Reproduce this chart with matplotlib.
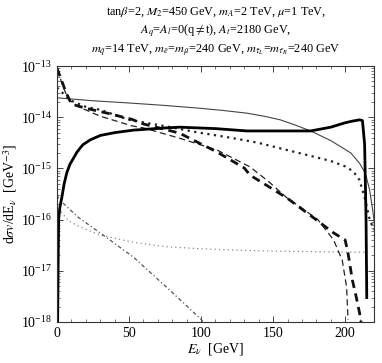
import numpy as np
import matplotlib
matplotlib.use("Agg")
import matplotlib.pyplot as plt
from matplotlib.ticker import FixedLocator, MultipleLocator, NullFormatter

plt.rcParams['font.family'] = ['Liberation Serif', 'DejaVu Serif']
plt.rcParams['mathtext.fontset'] = 'stix'

# thick solid
E_thick = [0.5, 0.8, 1.2, 2.0, 3.5, 5.0, 6.9, 9.0, 11, 14, 18, 23, 30, 40, 53, 76, 85, 110, 132, 155, 176, 190, 200, 205, 210, 212, 213.5, 214.5, 215]
y_thick = [1e-18, 1e-17, 1e-16, 1.7e-16, 2.8e-16, 5.0e-16, 8.3e-16, 1.2e-15, 1.5e-15, 2.1e-15, 2.9e-15, 3.6e-15, 4.4e-15, 5.0e-15, 5.6e-15, 6.2e-15, 6.4e-15, 6.0e-15, 5.4e-15, 5.4e-15, 5.4e-15, 6.4e-15, 7.8e-15, 8.4e-15, 8.9e-15, 8.6e-15, 3e-15, 1e-16, 3e-18]

# thin solid
E_thin = [0, 25, 50, 75, 99, 115, 132, 145, 155, 165, 176, 190, 204, 210, 214, 217, 219, 220, 221]
y_thin = [2.4e-14, 2.1e-14, 1.9e-14, 1.7e-14, 1.5e-14, 1.36e-14, 1.2e-14, 1.03e-14, 8.9e-15, 7.1e-15, 5.4e-15, 3.5e-15, 2.0e-15, 1.26e-15, 8.1e-16, 3.8e-16, 1.6e-16, 1.0e-16, 4e-17]

# thick dashed
E_tdash = [0, 3, 6, 9, 10.4, 20, 35, 52, 60, 85, 111, 130, 134, 147, 160, 176, 192, 200, 202, 205, 208, 210, 211]
y_tdash = [9e-14, 5.5e-14, 3.2e-14, 2.1e-14, 1.8e-14, 1.5e-14, 1.2e-14, 9.1e-15, 7.4e-15, 4.9e-15, 2.1e-15, 1.02e-15, 7.4e-16, 4.4e-16, 2.6e-16, 1.2e-16, 5.5e-17, 4.0e-17, 2.2e-17, 6.6e-18, 2.8e-18, 1.5e-18, 1e-18]

# thin dashed
E_dash = [0.7, 3, 6, 9, 15, 30, 52, 60, 85, 111, 134, 147, 160, 171, 181, 192, 198, 201, 202]
y_dash = [8.7e-14, 5.0e-14, 3.0e-14, 2.1e-14, 1.6e-14, 1.05e-14, 6.8e-15, 6.2e-15, 3.9e-15, 2.3e-15, 1.07e-15, 5.5e-16, 2.6e-16, 1.6e-16, 1.0e-16, 4.0e-17, 1.6e-17, 4.8e-18, 1.1e-18]

# thick dotted
E_dot = [0, 5, 10, 20, 30, 50, 75, 97, 120, 139, 168, 190, 201, 206, 210, 214, 217, 220]
y_dot = [3.8e-14, 2.8e-14, 2.1e-14, 1.6e-14, 1.4e-14, 8.9e-15, 6.7e-15, 5.1e-15, 4.0e-15, 3.2e-15, 2.0e-15, 1.4e-15, 1.07e-15, 8.5e-16, 5.9e-16, 2.4e-16, 1.0e-16, 6.3e-17]

# light dotted
E_ldot = [0, 2, 8, 16, 30, 53, 76, 99, 130, 160, 190, 214]
y_ldot = [2.0e-16, 1.55e-16, 9.5e-17, 7.2e-17, 5.0e-17, 3.6e-17, 2.95e-17, 2.7e-17, 2.5e-17, 2.4e-17, 2.35e-17, 2.3e-17]

# dash-dot
E_dd = [0, 2, 15, 30, 53, 76, 99, 103]
y_dd = [3.0e-16, 2.4e-16, 1.1e-16, 5.5e-17, 1.86e-17, 4.8e-18, 1.2e-18, 0.9e-18]

y_major = [1e-18, 1e-17, 1e-16, 1e-15, 1e-14, 1e-13]

fig = plt.figure(figsize=(3.82, 3.63), dpi=100)
ax = fig.add_axes([0.149, 0.113, 0.830, 0.705])

ax.plot(E_thin, y_thin, color='#444444', lw=0.8)
ax.plot(E_ldot, y_ldot, color='#888888', lw=0.9, ls=(0, (1, 2.5)))
ax.plot(E_dd, y_dd, color='#555555', lw=0.9, ls=(0, (3, 2, 1, 2)))
ax.plot(E_dot, y_dot, color='#222222', lw=1.6, ls=(0, (1, 2)))
ax.plot(E_dash, y_dash, color='#222222', lw=0.9, ls=(0, (5, 3)))
ax.plot(E_tdash, y_tdash, color='#111111', lw=2.0, ls=(0, (3, 2)))
ax.plot(E_thick, y_thick, color='black', lw=2.0)

ax.set_yscale('log')
ax.set_xlim(0, 220)
ax.set_ylim(1e-18, 1e-13)
ax.xaxis.set_major_locator(MultipleLocator(50))
ax.xaxis.set_minor_locator(MultipleLocator(10))
ax.yaxis.set_major_locator(FixedLocator(y_major))
minors = [m * d for d in y_major[:-1] for m in range(2, 10)]
ax.yaxis.set_minor_locator(FixedLocator(minors))
ax.yaxis.set_minor_formatter(NullFormatter())
ax.tick_params(which='both', direction='in', top=True, right=True, labelsize=10, color='#444444')
ax.tick_params(which='major', length=4, width=0.7)
ax.tick_params(which='minor', length=2, width=0.5)
for s in ax.spines.values():
    s.set_linewidth(0.8)
    s.set_color('#333333')

ax.set_xlabel(r'$E_\nu$  [GeV]', fontsize=10, labelpad=1)
ax.set_ylabel(r'd$\sigma v$/dE$_\nu$  [GeV$^{-3}$]', fontsize=10, labelpad=1)

fig.text(0.565, 0.965, r'tan$\beta$=2, $M_2$=450 GeV, $m_A$=2 TeV, $\mu$=1 TeV,', ha='center', va='center', fontsize=8.8)
fig.text(0.565, 0.915, r'$A_q$=$A_l$=0(q$\neq$t), $A_t$=2180 GeV,', ha='center', va='center', fontsize=8.8)
fig.text(0.565, 0.862, r'$m_{\tilde q}$=14 TeV, $m_{\tilde e}$=$m_{\tilde \mu}$=240 GeV, $m_{\tilde \tau_L}$=$m_{\tilde \tau_R}$=240 GeV', ha='center', va='center', fontsize=8.8)

fig.savefig('out.png', dpi=100)
